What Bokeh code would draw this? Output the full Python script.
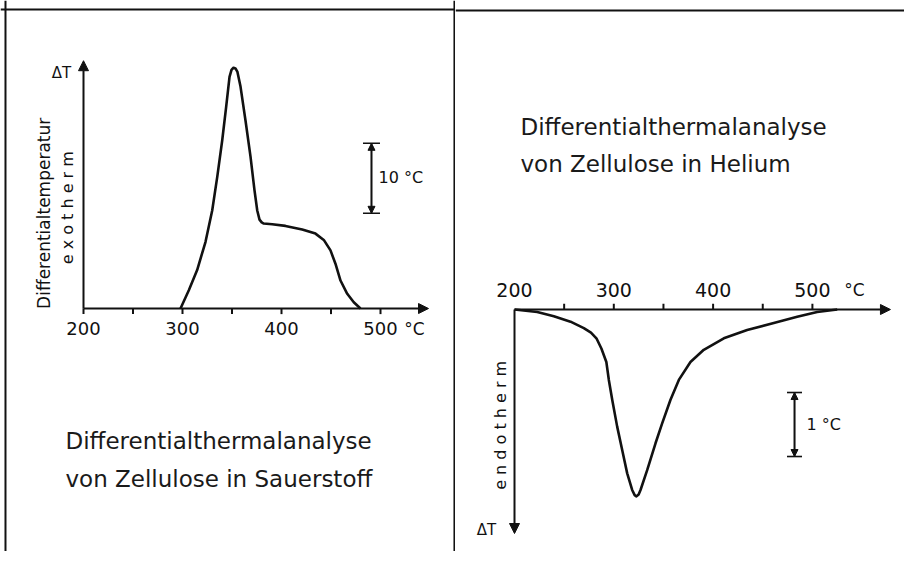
import numpy as np
from bokeh.plotting import figure
from bokeh.layouts import row
from bokeh.models import Arrow, NormalHead, TeeHead, Span, Range1d
from bokeh.embed import file_html
from bokeh.resources import INLINE
from bokeh.core.properties import value

# ---------------- data ----------------
# Oxygen (Sauerstoff): temperature in degC, differential temperature in degC (exotherm up)
o2_temp = [298.0, 306.4, 314.8, 323.2, 330.0, 335.1, 340.1, 344.1, 347.5, 349.5, 351.5,
           353.5, 355.5, 358.6, 363.6, 368.7, 372.7, 375.5, 377.8, 380.0, 382.1, 390.6,
           404.0, 420.9, 434.3, 442.7, 449.5, 454.5, 459.6, 466.4, 473.0, 479.8]
o2_dT = [0.0, 2.6, 5.5, 9.5, 14.0, 18.8, 24.0, 28.8, 33.1, 34.1, 34.4,
         34.3, 33.8, 31.7, 26.9, 21.7, 16.9, 14.0, 12.7, 12.3, 12.14, 12.04,
         11.8, 11.3, 10.7, 9.8, 8.3, 6.4, 4.0, 2.1, 0.9, 0.0]

# Helium: temperature in degC, differential temperature in degC (endotherm down)
he_temp = [200.0, 222.9, 239.6, 256.4, 269.8, 277.0, 282.5, 287.5, 292.5, 295.0, 298.4,
           303.4, 308.5, 313.5, 318.5, 321.0, 322.8, 325.0, 326.9, 333.6, 342.0, 348.7,
           357.1, 365.5, 377.2, 390.6, 410.8, 434.3, 461.1, 484.7, 504.8, 525.0]
he_dT = [0.0, -0.04, -0.105, -0.19, -0.29, -0.36, -0.45, -0.61, -0.82, -1.10, -1.41,
         -1.83, -2.20, -2.56, -2.82, -2.90, -2.92, -2.89, -2.82, -2.51, -2.09, -1.78,
         -1.41, -1.10, -0.82, -0.63, -0.45, -0.32, -0.21, -0.115, -0.04, 0.0]

major_ticks = [200, 300, 400, 500]
tick_labels = ["200", "300", "400", "500"]
minor_ticks = [200, 250, 300, 350, 400, 450, 500]
he_minor_ticks = [250, 300, 350, 400, 450, 500]
unit_label = "°C"

o2_title = ["Differentialthermalanalyse", "von Zellulose in Sauerstoff"]
he_title = ["Differentialthermalanalyse", "von Zellulose in Helium"]

FONT = value("DejaVu Sans")
INK = "#111111"


def base_fig(w, h, xr, yr):
    p = figure(width=w, height=h, x_range=Range1d(*xr), y_range=Range1d(*yr),
               x_axis_type=None, y_axis_type=None, toolbar_location=None,
               output_backend="svg", min_border=0)
    p.outline_line_color = None
    p.background_fill_color = "white"
    p.border_fill_color = "white"
    return p


def head(size):
    return NormalHead(size=size, fill_color=INK, line_color=INK)


# ---------------- left panel (oxygen) ----------------
L = base_fig(455, 551, (116.16, 575.76), (-34.71, 44.0))
# frame lines (outer frame and divider)
L.add_layout(Span(location=42.7, dimension="width", line_color=INK, line_width=2))
L.add_layout(Span(location=121.2, dimension="height", line_color=INK, line_width=2))
L.add_layout(Span(location=574.7, dimension="height", line_color=INK, line_width=2))

# axes
L.add_layout(Arrow(end=head(10), x_start=200, y_start=0, x_end=548.5, y_end=0,
                   line_width=2, line_color=INK))
L.add_layout(Arrow(end=head(10), x_start=200, y_start=0, x_end=200, y_end=35.4,
                   line_width=2, line_color=INK))
L.segment(x0=minor_ticks, y0=[0] * len(minor_ticks), x1=minor_ticks,
          y1=[-0.8] * len(minor_ticks), line_width=2, line_color=INK)
L.text(x=major_ticks, y=[-2.9] * 4, text=tick_labels, text_font=FONT, text_font_size="18px",
       text_align="center", text_baseline="middle", text_color=INK)
L.text(x=[534.3], y=[-2.9], text=[unit_label], text_font=FONT, text_font_size="17px",
       text_align="center", text_baseline="middle", text_color=INK)
L.text(x=[177.8], y=[33.7], text=["ΔT"], text_font=FONT, text_font_size="15px",
       text_align="center", text_baseline="middle", text_color=INK)
L.text(x=[159.6], y=[13.6], text=["Differentialtemperatur"], angle=np.pi / 2,
       text_font=FONT, text_font_size="17px", text_align="center", text_baseline="middle",
       text_color=INK)
L.text(x=[183.8], y=[14.4], text=["e x o t h e r m"], angle=np.pi / 2,
       text_font=FONT, text_font_size="16px", text_align="center", text_baseline="middle",
       text_color=INK)

# curve
L.line(o2_temp, o2_dT, line_width=2.6, line_color=INK, line_join="round")

# 10 degC scale bar
L.add_layout(Arrow(start=TeeHead(size=17, line_color=INK, line_width=1.6),
                   end=TeeHead(size=17, line_color=INK, line_width=1.6),
                   x_start=490.9, y_start=13.6, x_end=490.9, y_end=23.6,
                   line_width=1.6, line_color=INK))
L.add_layout(Arrow(start=head(7), end=head(7),
                   x_start=490.9, y_start=13.6, x_end=490.9, y_end=23.6,
                   line_width=1.6, line_color=INK))
L.text(x=[498.0], y=[18.7], text=["10 °C"], text_font=FONT, text_font_size="16px",
       text_align="left", text_baseline="middle", text_color=INK)

# title
L.text(x=[181.8, 181.8], y=[-18.86, -24.29], text=o2_title, text_font=FONT,
       text_font_size="23px", text_align="left", text_baseline="middle", text_color="#1a1a1a")

# ---------------- right panel (helium) ----------------
R = base_fig(449, 551, (140.58, 592.75), (-3.781, 4.828))
R.add_layout(Span(location=4.672, dimension="width", line_color=INK, line_width=2))

R.add_layout(Arrow(end=head(10), x_start=200, y_start=0, x_end=578.6, y_end=0,
                   line_width=2, line_color=INK))
R.add_layout(Arrow(end=head(10), x_start=200, y_start=0, x_end=200, y_end=-3.5,
                   line_width=2, line_color=INK))
R.segment(x0=he_minor_ticks, y0=[0] * len(he_minor_ticks), x1=he_minor_ticks,
          y1=[0.09] * len(he_minor_ticks), line_width=2, line_color=INK)
R.text(x=major_ticks, y=[0.31] * 4, text=tick_labels, text_font=FONT, text_font_size="19px",
       text_align="center", text_baseline="middle", text_color=INK)
R.text(x=[542.4], y=[0.31], text=[unit_label], text_font=FONT, text_font_size="17px",
       text_align="center", text_baseline="middle", text_color=INK)
R.text(x=[171.8], y=[-3.44], text=["ΔT"], text_font=FONT, text_font_size="15px",
       text_align="center", text_baseline="middle", text_color=INK)
R.text(x=[185.9], y=[-1.81], text=["e n d o t h e r m"], angle=np.pi / 2,
       text_font=FONT, text_font_size="16px", text_align="center", text_baseline="middle",
       text_color=INK)

R.line(he_temp, he_dT, line_width=2.6, line_color=INK, line_join="round")

R.add_layout(Arrow(start=TeeHead(size=15, line_color=INK, line_width=1.6),
                   end=TeeHead(size=15, line_color=INK, line_width=1.6),
                   x_start=482.0, y_start=-2.297, x_end=482.0, y_end=-1.297,
                   line_width=1.6, line_color=INK))
R.add_layout(Arrow(start=head(7), end=head(7),
                   x_start=482.0, y_start=-2.297, x_end=482.0, y_end=-1.297,
                   line_width=1.6, line_color=INK))
R.text(x=[494.0], y=[-1.8], text=["1 °C"], text_font=FONT, text_font_size="16px",
       text_align="left", text_baseline="middle", text_color=INK)

R.text(x=[206.0, 206.0], y=[2.844, 2.266], text=he_title, text_font=FONT,
       text_font_size="23px", text_align="left", text_baseline="middle", text_color="#1a1a1a")

layout = row(L, R, spacing=0)
open("out.html", "w").write(file_html(layout, INLINE))
